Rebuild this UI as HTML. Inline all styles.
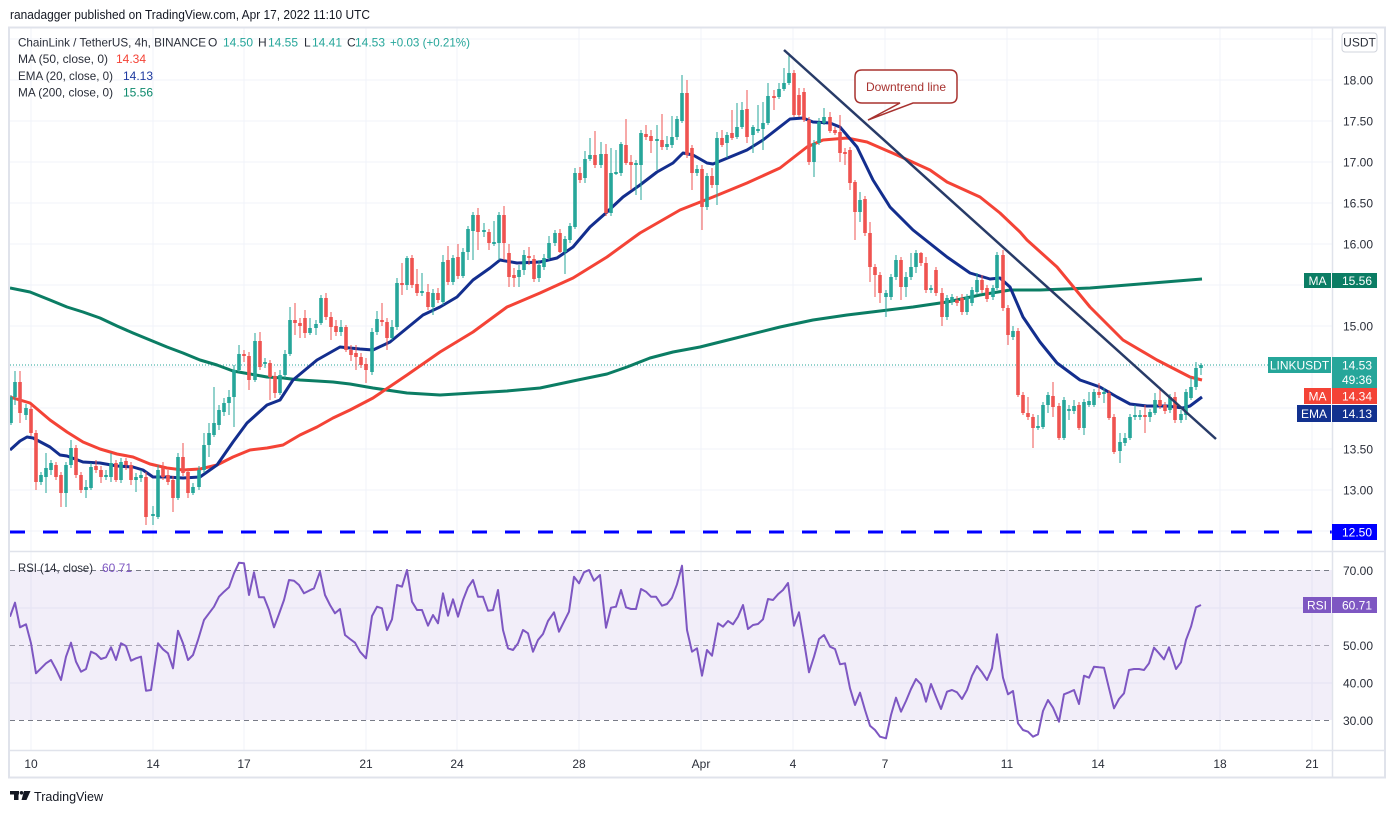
<!DOCTYPE html>
<html><head><meta charset="utf-8"><style>
html,body{margin:0;padding:0;background:#fff;}
svg{display:block;font-family:"Liberation Sans",sans-serif;}
</style></head><body>
<svg width="1395" height="813" viewBox="0 0 1395 813" xmlns="http://www.w3.org/2000/svg">
<defs><clipPath id="cp"><rect x="10" y="28" width="1322" height="523"/></clipPath>
<clipPath id="cr"><rect x="10" y="552" width="1322" height="198"/></clipPath></defs>
<rect width="1395" height="813" fill="#fff"/>
<text x="10" y="19" font-size="13" fill="#131722" textLength="360" lengthAdjust="spacingAndGlyphs">ranadagger published on TradingView.com, Apr 17, 2022 11:10 UTC</text>
<!-- grid -->
<g stroke="#f0f3fa" stroke-width="1">
<path d="M31 28V750M153 28V750M244 28V750M366 28V750M457 28V750M579 28V750M701 28V750M793 28V750M885 28V750M1007 28V750M1098 28V750M1220 28V750M1312 28V750"/>
<path d="M10 39H1332M10 80H1332M10 121H1332M10 162H1332M10 203H1332M10 244H1332M10 285H1332M10 326H1332M10 367H1332M10 408H1332M10 449H1332M10 490H1332M10 531H1332M10 608H1332M10 683H1332"/>
</g>
<!-- RSI background -->
<rect x="10" y="570" width="1322" height="150" fill="#7e57c2" fill-opacity="0.1"/>
<g stroke-width="1" fill="none">
<path d="M10 570.5H1332M10 720.5H1332" stroke="#787b86" stroke-dasharray="5 4"/>
<path d="M10 645.5H1332" stroke="#a9a6b4" stroke-dasharray="5 4"/>
</g>
<!-- main chart -->
<g clip-path="url(#cp)">
<line x1="10" y1="365" x2="1268" y2="365" stroke="#26a69a" stroke-width="1" stroke-dasharray="1 2"/>
<line x1="10" y1="532" x2="1332" y2="532" stroke="#0000ff" stroke-width="3" stroke-dasharray="15 18"/>
<polyline fill="none" stroke="#0b7d64" stroke-width="3" stroke-linejoin="round" points="10,288 30,292 50,300 67,307 83,312 100,318 117,326 133,333 150,340 167,347 183,353 200,360 217,365 233,371 250,374 267,377 283,378 300,380 317,381 333,382 350,384 373,388 407,393 440,395 473,393 507,391 540,388 573,381 607,374 627,367 650,358 673,352 700,347 728,340 780,327 813,320 847,315 880,311 913,307 947,302 980,295 1010,290 1040,290 1090,288 1140,284 1202,279"/>
<polyline fill="none" stroke="#f44336" stroke-width="3" stroke-linejoin="round" points="10,397 30,403 50,420 67,432 83,442 100,449 117,454 133,457 150,464 167,468 183,470 200,469 217,465 233,457 250,450 267,448 283,445 300,435 317,427 333,418 350,410 373,398 407,375 440,352 473,332 507,307 540,293 573,278 607,257 640,233 680,210 713,197 747,183 780,168 807,147 823,140 847,138 867,142 897,155 930,170 947,182 980,197 1000,213 1020,232 1027,240 1057,267 1090,307 1123,340 1157,360 1190,377 1202,380"/>
<polyline fill="none" stroke="#132e8e" stroke-width="3" stroke-linejoin="round" points="10,450 20,441 27,437 33,438 50,447 60,455 67,456 83,462 100,463 117,466 133,467 143,470 153,477 167,477 183,478 200,477 217,465 233,442 247,423 267,405 280,400 293,380 317,360 340,347 360,349 373,350 390,342 423,315 440,307 457,297 473,280 490,268 500,260 517,263 540,262 557,258 573,247 590,227 607,212 623,197 640,185 657,172 673,163 683,153 693,155 707,163 713,164 747,150 763,140 790,119 803,118 813,122 830,123 840,127 857,147 873,180 890,207 913,230 947,257 970,273 990,279 1000,278 1010,287 1023,317 1040,342 1057,363 1080,380 1100,387 1117,397 1130,404 1147,406 1167,406 1183,408 1190,406 1202,397"/>
<!-- green candles -->
<path fill="none" stroke="#26a69a" stroke-width="1" d="M11 395V425M15 371V405M26 404V420M41 472V485M46 453V493M51 460V475M66 462V507M71 440V468M86 480V498M91 463V490M106 470V480M111 453V482M121 458V483M136 473V492M141 470V482M153 506V525M158 465V519M178 453V500M193 483V495M199 466V490M204 433V473M209 423V457M214 387V437M219 405V430M224 398V416M229 390V415M234 365V427M239 345V372M255 333V382M265 358V368M280 370V395M285 350V378M290 307V356M310 318V335M316 320V335M321 295V325M341 320V336M372 328V375M377 311V335M392 320V340M397 278V330M407 256V290M422 273V296M433 289V315M443 255V305M453 255V285M463 248V278M468 226V260M473 212V260M484 223V237M494 221V246M499 212V260M519 265V287M524 250V275M539 260V282M544 254V270M549 236V260M555 230V246M565 236V274M570 223V243M575 168V229M585 151V183M590 138V161M601 142V168M611 148V216M616 150V175M621 142V176M636 160V195M641 130V200M657 125V170M667 136V150M672 116V148M677 116V140M682 75V123M697 165V176M707 173V210M717 132V205M727 132V158M737 103V139M742 102V129M753 125V153M758 105V133M763 102V150M768 83V125M779 83V99M784 68V91M789 53V85M814 140V177M819 118V145M824 108V125M860 192V222M886 290V317M891 274V300M896 255V280M906 272V297M911 253V280M916 250V273M931 285V293M947 295V320M952 294V305M967 294V315M972 287V306M977 273V295M993 285V300M997 252V290M1013 326V340M1038 415V430M1043 402V429M1048 392V413M1064 397V440M1069 405V420M1074 400V414M1084 399V435M1089 392V407M1094 389V407M1104 388V403M1120 433V463M1125 433V446M1130 414V440M1135 405V420M1140 410V420M1150 409V422M1155 393V415M1170 394V413M1181 410V423M1186 389V420M1191 377V400M1196 362V390M1201 363V375"/>
<path fill="none" stroke="#26a69a" stroke-width="3.6" d="M11 397V423M15 382V397M26 408V415M41 475V482M46 468V477M51 463V470M66 465V493M71 448V465M86 487V490M91 467V488M106 475V477M111 463V477M121 462V480M136 477V480M141 475V478M153 514V516M158 470V517M178 457V498M193 487V493M199 470V487M204 445V470M209 433V445M214 423V435M219 410V425M224 403V412M229 397V403M234 370V397M239 354V370M255 341V380M265 362V364M280 375V393M285 354V375M290 320V354M310 328V333M316 324V328M321 298V323M341 327V332M372 332V372M377 319V332M392 327V338M397 283V327M407 258V285M422 291V293M433 293V307M443 262V302M453 258V282M463 252V276M468 229V252M473 215V231M484 230V232M494 242V244M499 215V243M519 270V277M524 255V270M539 265V278M544 258V267M549 243V258M555 233V243M565 239V252M570 226V240M575 173V227M585 159V178M590 155V159M601 154V165M611 173V213M616 172V174M621 144V173M636 163V165M641 133V165M657 139V141M667 144V147M672 137V145M677 119V137M682 93V121M697 169V173M707 176V207M717 138V185M727 135V143M737 127V137M742 110V127M753 127V135M758 129V131M763 123V129M768 96V123M779 89V97M784 83V89M789 73V83M814 143V162M819 122V143M824 117V123M860 200V212M886 293V297M891 277V297M896 260V277M906 277V287M911 267V277M916 253V267M931 288V290M947 298V317M952 297V302M967 297V312M972 290V303M977 280V292M993 288V297M997 255V288M1013 331V337M1038 426V428M1043 405V427M1048 395V405M1064 400V438M1069 409V411M1074 406V411M1084 402V428M1089 401V405M1094 392V405M1104 392V394M1120 442V451M1125 438V443M1130 417V438M1135 415V417M1140 415V417M1150 412V417M1155 400V413M1170 397V410M1181 414V420M1186 392V415M1191 387V398M1196 368V387M1201 365V368"/>
<!-- red candles -->
<path fill="none" stroke="#ef5350" stroke-width="1" d="M20 371V423M31 405V436M36 430V490M56 462V480M61 472V507M76 445V478M81 472V493M96 460V473M101 466V483M116 460V482M126 458V470M131 462V485M146 472V525M163 462V480M168 470V485M173 476V512M183 443V476M188 468V498M244 350V362M249 352V390M260 332V370M270 360V400M275 372V398M295 303V335M300 318V338M305 310V338M326 293V320M331 312V340M336 320V336M346 325V352M351 345V361M356 345V370M361 353V368M366 358V383M382 303V326M387 318V350M402 263V295M412 255V288M417 269V296M428 284V310M438 288V303M448 246V285M458 244V279M478 208V250M489 229V250M504 206V260M509 244V287M514 268V287M529 247V265M534 255V282M560 229V253M580 167V183M595 131V168M606 144V216M626 119V165M631 155V190M646 125V140M651 130V153M662 114V150M687 80V158M692 145V190M702 165V230M712 168V188M722 130V147M732 110V140M747 90V143M774 90V110M794 70V117M799 88V117M804 88V122M809 117V165M830 112V133M835 127V135M840 115V162M845 148V165M850 147V190M855 180V240M865 196V236M870 222V282M875 264V297M880 272V303M901 257V300M921 252V266M926 257V293M936 267V296M942 288V326M957 296V306M962 294V315M982 275V293M987 285V302M1003 250V311M1008 305V345M1018 328V397M1023 392V415M1028 397V420M1033 414V448M1053 382V417M1059 403V440M1079 402V430M1099 383V398M1109 390V420M1114 414V454M1145 405V433M1160 387V409M1165 402V414M1175 392V423"/>
<path fill="none" stroke="#ef5350" stroke-width="3.6" d="M20 382V413M31 409V433M36 433V482M56 465V477M61 475V493M76 448V475M81 475V490M96 466V470M101 470V477M116 463V480M126 461V465M131 465V480M146 477V517M163 468V477M168 475V482M173 480V498M183 457V473M188 472V493M244 354V356M249 356V380M260 341V367M270 363V377M275 376V393M295 320V323M300 323V326M305 318V333M326 298V317M331 317V327M336 326V332M346 327V350M351 350V355M356 353V357M361 357V365M366 364V370M382 320V322M387 322V338M402 283V285M412 258V285M417 284V293M428 292V307M438 293V300M448 260V282M458 257V276M478 215V232M489 232V243M504 215V243M509 253V277M514 275V278M529 256V258M534 259V279M560 233V252M580 173V180M595 155V165M606 154V213M626 145V163M631 162V165M646 134V137M651 136V141M662 140V147M687 93V155M692 148V173M702 169V207M712 176V185M722 138V145M732 133V138M747 109V137M774 96V98M794 73V115M799 95V115M804 92V120M809 120V162M830 117V131M835 130V133M840 132V153M845 152V154M850 150V183M855 182V212M865 199V233M870 233V267M875 267V275M880 275V293M901 260V287M921 253V263M926 263V290M936 270V293M942 293V317M957 300V303M962 298V312M982 280V290M987 288V299M1003 255V308M1008 308V335M1018 331V395M1023 395V413M1028 413V417M1033 417V428M1053 396V407M1059 406V438M1079 405V428M1099 392V395M1109 393V418M1114 417V452M1145 415V417M1160 400V406M1165 405V411M1175 397V420"/>
<!-- downtrend line -->
<line x1="784" y1="50" x2="1216" y2="439" stroke="#283b68" stroke-width="2.5"/>
<path d="M862,70 H950 Q957,70 957,77 V96 Q957,103 950,103 H913 L868,120 L900,103 H862 Q855,103 855,96 V77 Q855,70 862,70 Z" fill="#fff" stroke="#a8322f" stroke-width="1.5"/>
<text x="906" y="91" font-size="12" fill="#a8322f" text-anchor="middle">Downtrend line</text>
</g>
<!-- RSI line -->
<g clip-path="url(#cr)">
<polyline fill="none" stroke="#7e57c2" stroke-width="2" stroke-linejoin="round" points="10,616.7 15,602.7 20,627.3 26,624.3 31,643.3 36,673.3 41,668.3 46,663.3 51,660 56,669.3 61,680 66,656.7 71,642.7 76,661.7 81,671.7 86,669 91,651.7 96,654 101,659 106,657.3 111,647.3 116,660 121,643.3 126,646 131,660.7 136,658.3 141,656.7 146,690.7 151,690 158,643.3 163,649.3 168,653.3 173,668.3 178,630.7 183,643.3 188,660 193,655 198,640 204,620 209,613.3 214,606.7 219,596.7 224,591.7 229,587.3 234,573.3 239,562.7 244,563.3 249,595 254,572.3 259,597.3 264,597.3 269,610 274,627.3 279,614 284,600 289,580 294,580.7 299,585 304,593.3 309,590.7 314,588.3 320,571.7 325,595 330,605 335,613.3 340,609 345,635 350,639 355,642.7 360,651.7 366,658.3 372,616 377,606.7 382,608.3 387,630 392,619.3 397,585 402,586.7 407,570 412,601.7 417,610 422,610 428,625.7 433,615 438,623.3 443,593.3 448,615.7 453,599.3 458,616.7 463,600 468,587.3 473,580 478,596.7 483,596.7 488,610.7 493,610 498,590 503,630 508,648.3 513,650 518,643.3 523,630 528,633.3 533,651.7 538,640 543,634 548,621 554,612.3 559,631.7 564,621.7 569,611.7 574,576.7 579,583.3 584,572.3 589,570 594,580.7 600,575 606,627.7 611,607.7 616,606.7 621,590 626,607.3 631,609 636,609 641,589 646,591.7 651,596.7 656,596.7 662,605.7 667,604 672,597.7 677,584.3 682,565.7 687,630 692,651.7 697,648.3 702,675.7 707,650 712,655.7 718,623.3 723,626.7 728,621 733,624.3 738,616.7 743,605 748,629 753,625 758,624 763,619.3 768,599 773,600 778,594.3 783,590 788,583 794,625.7 799,612.3 804,641.7 809,672.3 814,656.7 819,639 824,635 830,646.7 835,649 840,664.3 845,663.3 850,688.3 855,705 860,692.7 865,710 870,725.7 875,730 880,736.7 886,738.3 891,715 896,697.7 901,711.7 906,701 911,689 916,679 921,684.3 926,701.7 931,684 936,696.7 941,709 947,691.7 952,690 957,692.3 962,699 967,690 972,675.7 977,666 982,672.3 987,680 992,668.3 997,634.3 1003,677.7 1008,694.3 1013,691 1018,723.3 1023,730 1028,731.7 1033,736.7 1038,734.3 1043,711 1048,700 1053,707.7 1059,721.7 1064,694.3 1069,692.3 1074,690 1079,704 1084,675.7 1089,677.7 1094,666.7 1099,667.3 1104,667.7 1109,688.3 1114,708.3 1119,699 1124,693.3 1129,670 1134,669 1139,669 1144,670 1149,663.3 1154,647.7 1159,653.3 1164,659.3 1169,647.3 1176,669 1181,662.3 1186,640 1191,626.7 1196,607.3 1201,605"/>
</g>
<!-- frame -->
<g stroke="#e0e3eb" fill="none">
<rect x="9" y="27.5" width="1376" height="750" stroke-width="2"/>
<path d="M1332.5 28V778M9 551.5H1385M9 750.5H1385" stroke-width="1.5"/>
</g>
<!-- legend -->
<g font-size="12">
<text x="18" y="46.5" fill="#2a2e39" textLength="188" lengthAdjust="spacingAndGlyphs">ChainLink / TetherUS, 4h, BINANCE</text>
<text x="208" y="46.5" fill="#2a2e39">O</text><text x="223" y="46.5" fill="#26a69a">14.50</text>
<text x="258" y="46.5" fill="#2a2e39">H</text><text x="268" y="46.5" fill="#26a69a">14.55</text>
<text x="304" y="46.5" fill="#2a2e39">L</text><text x="312" y="46.5" fill="#26a69a">14.41</text>
<text x="347" y="46.5" fill="#2a2e39">C</text><text x="355" y="46.5" fill="#26a69a">14.53</text>
<text x="390" y="46.5" fill="#26a69a" textLength="80" lengthAdjust="spacingAndGlyphs">+0.03 (+0.21%)</text>
<text x="18" y="63" fill="#2a2e39" textLength="90" lengthAdjust="spacingAndGlyphs">MA (50, close, 0)</text><text x="116" y="63" fill="#f44336">14.34</text>
<text x="18" y="80" fill="#2a2e39" textLength="95" lengthAdjust="spacingAndGlyphs">EMA (20, close, 0)</text><text x="123" y="80" fill="#1e3aa0">14.13</text>
<text x="18" y="96.5" fill="#2a2e39" textLength="95" lengthAdjust="spacingAndGlyphs">MA (200, close, 0)</text><text x="123" y="96.5" fill="#0e8a6d">15.56</text>
<text x="18" y="572" fill="#2a2e39" textLength="75" lengthAdjust="spacingAndGlyphs">RSI (14, close)</text><text x="102" y="572" fill="#7e57c2">60.71</text>
</g>
<!-- price axis -->
<rect x="1342" y="33" width="35" height="19" rx="3" fill="#fff" stroke="#d1d4dc"/>
<text x="1359.5" y="46.5" font-size="12" fill="#2a2e39" text-anchor="middle">USDT</text>
<g font-size="12" fill="#2a2e39">
<text x="1343" y="84.5">18.00</text><text x="1343" y="125.5">17.50</text><text x="1343" y="166.5">17.00</text>
<text x="1343" y="207.5">16.50</text><text x="1343" y="248.5">16.00</text><text x="1343" y="330.5">15.00</text>
<text x="1343" y="453.5">13.50</text><text x="1343" y="494.5">13.00</text>
<text x="1343" y="575">70.00</text><text x="1343" y="650">50.00</text><text x="1343" y="687.5">40.00</text><text x="1343" y="725">30.00</text>
</g>
<g font-size="12" fill="#fff">
<rect x="1304" y="273" width="27" height="15" fill="#0b7d64"/><text x="1317.5" y="285" text-anchor="middle">MA</text>
<rect x="1332" y="273" width="45" height="15" fill="#0b7d64"/><text x="1342" y="285">15.56</text>
<rect x="1268" y="357" width="63" height="16" fill="#26a69a"/><text x="1299.5" y="369.5" text-anchor="middle">LINKUSDT</text>
<rect x="1332" y="357" width="45" height="31" fill="#26a69a"/><text x="1342" y="369.5">14.53</text><text x="1342" y="384">49:36</text>
<rect x="1304" y="388" width="27" height="16" fill="#f44336"/><text x="1317.5" y="400.5" text-anchor="middle">MA</text>
<rect x="1332" y="388" width="45" height="16" fill="#f44336"/><text x="1342" y="400.5">14.34</text>
<rect x="1297" y="405" width="34" height="17" fill="#12318f"/><text x="1314" y="418" text-anchor="middle">EMA</text>
<rect x="1332" y="405" width="45" height="17" fill="#12318f"/><text x="1342" y="418">14.13</text>
<rect x="1332" y="524" width="45" height="16" fill="#0000ff"/><text x="1342" y="536.5">12.50</text>
<rect x="1303" y="597" width="28" height="16" fill="#7e57c2"/><text x="1317" y="609.5" text-anchor="middle">RSI</text>
<rect x="1332" y="597" width="45" height="16" fill="#7e57c2"/><text x="1342" y="609.5">60.71</text>
</g>
<!-- time axis -->
<g font-size="12" fill="#2a2e39" text-anchor="middle">
<text x="31" y="768">10</text><text x="153" y="768">14</text><text x="244" y="768">17</text><text x="366" y="768">21</text>
<text x="457" y="768">24</text><text x="579" y="768">28</text><text x="701" y="768">Apr</text><text x="793" y="768">4</text>
<text x="885" y="768">7</text><text x="1007" y="768">11</text><text x="1098" y="768">14</text><text x="1220" y="768">18</text><text x="1312" y="768">21</text>
</g>
<!-- footer logo -->
<g fill="#131722">
<rect x="10" y="791" width="9" height="3.5"/><rect x="14" y="791" width="4.5" height="9"/>
<circle cx="21.5" cy="792.8" r="1.8"/>
<path d="M24 791H30.5L26.5 800H21.5Z"/>
</g>
<text x="34" y="801" font-size="13" fill="#131722" textLength="69" lengthAdjust="spacingAndGlyphs">TradingView</text>
</svg>
</body></html>
